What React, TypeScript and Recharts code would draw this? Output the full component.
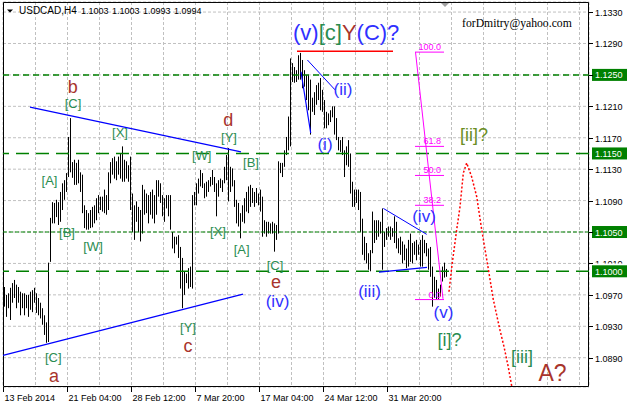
import React from 'react';
import {
  ComposedChart,
  Bar,
  Line,
  XAxis,
  YAxis,
  CartesianGrid,
  ReferenceLine,
  ReferenceDot,
  ReferenceArea,
} from 'recharts';

// ---------------- data ----------------
const highs = [
  1.0980, 1.0970, 1.0972, 1.0979, 1.0985, 1.0989, 1.0983, 1.0980, 1.0974, 1.0972,
  1.0972, 1.0970, 1.0970, 1.0974, 1.0976, 1.0979, 1.0972, 1.0966, 1.0960, 1.0953,
  1.0944, 1.0935, 1.1011, 1.1068, 1.1088, 1.1087, 1.1091, 1.1088, 1.1101, 1.1112,
  1.1116, 1.1125, 1.1171, 1.1195, 1.1139, 1.1142, 1.1138, 1.1142, 1.1126, 1.1123,
  1.1084, 1.1078, 1.1074, 1.1078, 1.1082, 1.1084, 1.1093, 1.1097, 1.1095, 1.1095,
  1.1104, 1.1097, 1.1126, 1.1139, 1.1144,
  1.1146, 1.1140, 1.1146, 1.1150, 1.1159, 1.1142, 1.1140, 1.1135, 1.1146, 1.1099,
  1.1084, 1.1089, 1.1082, 1.1078, 1.1110, 1.1104, 1.1099, 1.1097, 1.1101, 1.1104,
  1.1097, 1.1116, 1.1116, 1.1112, 1.1097, 1.1093, 1.1097, 1.1097, 1.1097, 1.1050,
  1.1044, 1.1044, 1.1046, 1.1031, 1.1017, 1.1000, 1.0997, 1.1004, 1.1006, 1.1097,
  1.1101, 1.1112, 1.1118, 1.1129, 1.1125, 1.1112, 1.1114, 1.1116, 1.1120, 1.1129,
  1.1120, 1.1112, 1.1116, 1.1118, 1.1116,
  1.1133, 1.1148, 1.1157, 1.1133, 1.1131, 1.1116, 1.1091, 1.1087, 1.1074, 1.1084,
  1.1093, 1.1101, 1.1108, 1.1110, 1.1106, 1.1101, 1.1106, 1.1099, 1.1104, 1.1095,
  1.1065, 1.1063, 1.1063, 1.1061, 1.1063, 1.1061, 1.1059, 1.1140, 1.1138, 1.1138,
  1.1154, 1.1171, 1.1197, 1.1271, 1.1265, 1.1260, 1.1256, 1.1275, 1.1278, 1.1269,
  1.1256, 1.1250, 1.1250, 1.1244, 1.1221, 1.1228, 1.1237, 1.1240, 1.1246, 1.1231,
  1.1218, 1.1203, 1.1201, 1.1205, 1.1210,
  1.1210, 1.1195, 1.1171, 1.1167, 1.1171, 1.1154, 1.1159, 1.1167, 1.1150, 1.1114,
  1.1104, 1.1104, 1.1104, 1.1101, 1.1067, 1.1044, 1.1036, 1.1023, 1.1027, 1.1076,
  1.1065, 1.1065, 1.1065, 1.1063, 1.1080, 1.1050, 1.1055, 1.1057, 1.1057, 1.1055,
  1.1070, 1.1063, 1.1042, 1.1044, 1.1038, 1.1034, 1.1029, 1.1040, 1.1048, 1.1036,
  1.1038, 1.1040, 1.1034, 1.1040, 1.1046, 1.1040, 1.1036, 1.1029, 1.1031, 1.1006,
  1.0993, 1.0989, 1.0978, 1.0983, 1.1006, 1.1011, 1.1003,
];

const lows = [
  1.0955, 1.0942, 1.0953, 1.0938, 1.0960, 1.0966, 1.0953, 1.0960, 1.0944, 1.0953,
  1.0944, 1.0953, 1.0942, 1.0951, 1.0948, 1.0960, 1.0947, 1.0944, 1.0940, 1.0932,
  1.0919, 1.0909, 1.0910, 1.1012, 1.1061, 1.1061, 1.1069, 1.1059, 1.1063, 1.1078,
  1.1091, 1.1101, 1.1120, 1.1126, 1.1119, 1.1110, 1.1110, 1.1112, 1.1101, 1.1074,
  1.1055, 1.1053, 1.1053, 1.1055, 1.1056, 1.1061, 1.1065, 1.1074, 1.1078, 1.1076,
  1.1074, 1.1072, 1.1078, 1.1112, 1.1123,
  1.1118, 1.1116, 1.1123, 1.1118, 1.1114, 1.1114, 1.1118, 1.1114, 1.1078, 1.1050,
  1.1040, 1.1063, 1.1050, 1.1038, 1.1048, 1.1072, 1.1074, 1.1061, 1.1072, 1.1067,
  1.1061, 1.1072, 1.1095, 1.1087, 1.1070, 1.1063, 1.1080, 1.1070, 1.1053, 1.1029,
  1.1023, 1.1034, 1.1017, 1.0978, 1.0953, 1.0970, 1.0985, 1.0978, 1.0980, 1.0978,
  1.1084, 1.1084, 1.1099, 1.1108, 1.1106, 1.1093, 1.1095, 1.1101, 1.1108, 1.1110,
  1.1101, 1.1070, 1.1095, 1.1106, 1.1101,
  1.1112, 1.1116, 1.1089, 1.1101, 1.1108, 1.1082, 1.1061, 1.1057, 1.1042, 1.1063,
  1.1061, 1.1076, 1.1074, 1.1082, 1.1087, 1.1082, 1.1087, 1.1084, 1.1076, 1.1044,
  1.1048, 1.1044, 1.1048, 1.1048, 1.1048, 1.1025, 1.1040, 1.1048, 1.1125, 1.1120,
  1.1133, 1.1148, 1.1154, 1.1159, 1.1241, 1.1240, 1.1241, 1.1244, 1.1244, 1.1233,
  1.1235, 1.1218, 1.1205, 1.1174, 1.1203, 1.1199, 1.1212, 1.1218, 1.1205, 1.1203,
  1.1182, 1.1182, 1.1186, 1.1190, 1.1196,
  1.1174, 1.1167, 1.1154, 1.1152, 1.1148, 1.1120, 1.1135, 1.1133, 1.1099, 1.1082,
  1.1082, 1.1087, 1.1078, 1.1050, 1.1021, 1.1014, 1.1010, 1.1002, 1.1000, 1.1023,
  1.1036, 1.1040, 1.1044, 1.1048, 1.1002, 1.1031, 1.1040, 1.1044, 1.1040, 1.1044,
  1.1036, 1.1029, 1.1023, 1.1021, 1.1010, 1.1014, 1.1004, 1.1006, 1.1012, 1.1010,
  1.1021, 1.1014, 1.1021, 1.1006, 1.1006, 1.1023, 1.1019, 1.1002, 1.0993, 1.0955,
  1.0966, 1.0964, 1.0964, 1.0968, 1.0987, 1.0992, 1.0993,
];

const timeTicks = [
  -0.75, 15.25, 31.25, 47.25, 63.25, 79.25, 95.25, 111.25, 127.25, 143.25,
  159.25, 175.25, 191.25, 207.25, 223.25, 239.25, 255.25, 271.25, 287.25,
];
const timeLabels = [
  '13 Feb 2014', '', '21 Feb 04:00', '', '28 Feb 12:00', '', '7 Mar 20:00', '',
  '17 Mar 04:00', '', '24 Mar 12:00', '', '31 Mar 20:00', '', '', '', '', '', '',
];

const priceTicks = [
  1.133, 1.129, 1.125, 1.121, 1.117, 1.113, 1.109, 1.105, 1.101, 1.097, 1.093, 1.089,
];

const levelPrices = [1.125, 1.115, 1.105, 1.1];
const levelLabels = ['1.1250', '1.1150', '1.1050', '1.1000'];
const levelDash = ['6 4', '13 7', '4 2', '13 7'];

const fibPrices = [1.1279, 1.1159, 1.1122, 1.1084, 1.0964];
const fibLabels = ['100.0', '61.8', '50.0', '38.2', '0.0'];

const projI = [222, 223.5, 225.85, 227.5, 229.15, 230.85, 233.35, 235.85, 238.35, 241.65, 244.15, 247.5, 249.5, 251.65, 253.35];
const projP = [1.0974, 1.1008, 1.1053, 1.1082, 1.1125, 1.1138, 1.112, 1.1095, 1.1053, 1.1003, 1.0964, 1.0925, 1.0904, 1.0878, 1.0854];

const segments = [
  { i1: 12.5, p1: 1.1209, i2: 118, p2: 1.1152, kind: 'blue' },
  { i1: -1, p1: 1.0893, i2: 119, p2: 1.0971, kind: 'blue' },
  { i1: 148, p1: 1.1254, i2: 152.85, p2: 1.1176, kind: 'blue' },
  { i1: 151.2, p1: 1.1269, i2: 165, p2: 1.1231, kind: 'blueThin' },
  { i1: 189.2, p1: 1.108, i2: 210.85, p2: 1.1047, kind: 'blueThin' },
  { i1: 187, p1: 1.0999, i2: 211, p2: 1.1005, kind: 'blue' },
  { i1: 146, p1: 1.128, i2: 194, p2: 1.128, kind: 'red' },
  { i1: 205.25, p1: 1.1279, i2: 219, p2: 1.0965, kind: 'magenta' },
];

const waveLabels = [
  { i: 33.85, p: 1.1234, text: 'b', kind: 'brown' },
  { i: 34, p: 1.1213, text: '[C]', kind: 'green' },
  { i: 22.25, p: 1.1116, text: '[A]', kind: 'green' },
  { i: 31, p: 1.1049, text: '[B]', kind: 'green' },
  { i: 44, p: 1.1032, text: '[W]', kind: 'green' },
  { i: 57.5, p: 1.1177, text: '[X]', kind: 'green' },
  { i: 98.35, p: 1.1147, text: '[W]', kind: 'green' },
  { i: 106.5, p: 1.1051, text: '[X]', kind: 'green' },
  { i: 91.5, p: 1.0929, text: '[Y]', kind: 'green' },
  { i: 91.5, p: 1.0905, text: 'c', kind: 'brown' },
  { i: 111.65, p: 1.1193, text: 'd', kind: 'brown' },
  { i: 112, p: 1.117, text: '[Y]', kind: 'green' },
  { i: 123, p: 1.1139, text: '[B]', kind: 'green' },
  { i: 118.35, p: 1.1028, text: '[A]', kind: 'green' },
  { i: 135, p: 1.1008, text: '[C]', kind: 'green' },
  { i: 135.5, p: 1.0986, text: 'e', kind: 'brown' },
  { i: 136.25, p: 1.0962, text: '(iv)', kind: 'blue' },
  { i: 24.15, p: 1.089, text: '[C]', kind: 'green' },
  { i: 24.5, p: 1.0867, text: 'a', kind: 'brown' },
  { i: 160, p: 1.1162, text: '(i)', kind: 'blue' },
  { i: 169, p: 1.1232, text: '(ii)', kind: 'blue' },
  { i: 182.25, p: 1.0974, text: '(iii)', kind: 'blue' },
  { i: 209.5, p: 1.107, text: '(iv)', kind: 'blue' },
  { i: 219.25, p: 1.0947, text: '(v)', kind: 'blue' },
  { i: 222.25, p: 1.0913, text: '[i]?', kind: 'greenBig' },
  { i: 258.5, p: 1.0891, text: '[iii]', kind: 'greenBig' },
  { i: 273.75, p: 1.0871, text: 'A?', kind: 'brownBig' },
  { i: 234.5, p: 1.1174, text: '[ii]?', kind: 'olive' },
];

const topLabelPos = { i: 144, p: 1.1305 };
const topLabelParts = [
  { text: '(v)', kind: 'blue' },
  { text: '[c]', kind: 'green' },
  { text: 'Y', kind: 'brown' },
  { text: '(C)?', kind: 'blue' },
];

const titleSymbol = 'USDCAD,H4';
const titleValues = ['1.1003', '1.1003', '1.0993', '1.0994'];
const watermark = 'forDmitry@yahoo.com';

// ---------------- layout / style ----------------
const X_MIN = -1;
const X_MAX = 292;
const Y_MIN = 1.08527;
const Y_MAX = 1.13428;
const FONT = '"Liberation Sans", Arial, sans-serif';

const COLORS: Record<string, string> = {
  brown: '#a8342c',
  brownBig: '#a8342c',
  green: '#2a8c50',
  greenBig: '#2a8c50',
  olive: '#6b8e23',
  blue: '#3030ff',
};
const SIZES: Record<string, number> = {
  brown: 18,
  brownBig: 23,
  green: 13,
  greenBig: 18,
  olive: 18,
  blue: 17,
};
const SEG_STYLE: Record<string, { stroke: string; width: number }> = {
  blue: { stroke: '#0000ff', width: 1.2 },
  blueThin: { stroke: '#0000ff', width: 1 },
  red: { stroke: '#ff0000', width: 1.5 },
  magenta: { stroke: '#ff00ff', width: 1 },
};

const barData = highs.map((h, i) => ({ i, hl: [lows[i], h] }));
const projData = projI.map((i, k) => ({ i, p: projP[k] }));

function OhlcShape(props: any) {
  const { x, y, width, height } = props;
  if (x == null || y == null) return <g />;
  const cx = Math.round(x + width / 2 - 0.5);
  const top = Math.min(y, y + height);
  const h = Math.max(1, Math.abs(height));
  return <rect x={cx} y={top} width={1} height={h} fill="#000" />;
}

function XTick(props: any) {
  const { x, y, payload } = props;
  const idx = timeTicks.indexOf(payload.value);
  const label = idx >= 0 ? timeLabels[idx] : '';
  if (!label) return <g />;
  return (
    <g>
      <line x1={x} y1={y} x2={x} y2={y + 5} stroke="#000" strokeWidth={1} />
      <text x={x + 1} y={y + 14} fontSize={9} fontFamily={FONT} fill="#000">
        {label}
      </text>
    </g>
  );
}

function YTick(props: any) {
  const { x, y, payload } = props;
  const v = Number(payload.value);
  const yy = Math.round(y) + 0.5;
  // labels hidden under the level boxes
  const covered = levelPrices.some((lp) => Math.abs(lp - v) < 1e-6);
  const halfCovered = Math.abs(v - 1.101) < 1e-6;
  const clipId = 'yclip' + Math.round(v * 10000);
  return (
    <g>
      <line x1={x} y1={yy} x2={x + 4} y2={yy} stroke="#000" strokeWidth={1} />
      {halfCovered && (
        <defs>
          <clipPath id={clipId}>
            <rect x={x} y={yy - 10} width={40} height={10} />
          </clipPath>
        </defs>
      )}
      {!covered && (
        <text
          x={x + 6}
          y={yy + 3.5}
          fontSize={9}
          fontFamily={FONT}
          fill="#000"
          clipPath={halfCovered ? `url(#${clipId})` : undefined}
        >
          {v.toFixed(4)}
        </text>
      )}
    </g>
  );
}

export default function App() {
  return (
    <div style={{ position: 'absolute', left: 0, top: 0, width: 627, height: 405, background: '#fff' }}>
      <ComposedChart
        width={627}
        height={405}
        data={barData}
        margin={{ top: 2, right: 0, bottom: 0, left: 3 }}
      >
        <CartesianGrid stroke="#c0c0c0" strokeDasharray="3 2" />
        <XAxis
          dataKey="i"
          type="number"
          domain={[X_MIN, X_MAX]}
          allowDataOverflow
          ticks={timeTicks}
          interval={0}
          height={18}
          axisLine={false}
          tickLine={false}
          tickSize={0}
          tickMargin={0}
          tick={(p: any) => <XTick {...p} />}
        />
        <YAxis
          type="number"
          orientation="right"
          domain={[Y_MIN, Y_MAX]}
          allowDataOverflow
          ticks={priceTicks}
          interval={0}
          width={38}
          axisLine={false}
          tickLine={false}
          tickSize={0}
          tickMargin={0}
          tick={(p: any) => <YTick {...p} />}
        />
        {levelPrices.map((lp, k) => (
          <ReferenceLine
            key={'lvl' + k}
            y={lp}
            stroke="#008000"
            strokeWidth={k === 2 ? 1 : 1.5}
            strokeDasharray={levelDash[k]}
            ifOverflow="visible"
          />
        ))}
        <Bar dataKey="hl" barSize={1} isAnimationActive={false} shape={(p: any) => <OhlcShape {...p} />} />
        {segments.map((s, k) => (
          <ReferenceLine
            key={'seg' + k}
            segment={[{ x: s.i1, y: s.p1 }, { x: s.i2, y: s.p2 }]}
            stroke={SEG_STYLE[s.kind].stroke}
            strokeWidth={SEG_STYLE[s.kind].width}
            ifOverflow="visible"
          />
        ))}
        {fibPrices.map((fp, k) => (
          <ReferenceLine
            key={'fib' + k}
            segment={[{ x: 205, y: fp }, { x: 219.5, y: fp }]}
            stroke="#ff00ff"
            strokeWidth={1}
            ifOverflow="visible"
          />
        ))}
        {fibPrices.map((fp, k) => (
          <ReferenceDot
            key={'fibl' + k}
            x={218}
            y={fp}
            r={0}
            ifOverflow="visible"
            shape={(pp: any) => (
              <text x={pp.cx} y={pp.cy - 2} textAnchor="end" fontSize={9} fontFamily={FONT} fill="#ff00ff">
                {fibLabels[k]}
              </text>
            )}
          />
        ))}
        <Line
          data={projData}
          dataKey="p"
          type="linear"
          stroke="#ff0000"
          strokeWidth={1.5}
          strokeDasharray="2 2"
          dot={false}
          isAnimationActive={false}
        />
        {waveLabels.map((l, k) => (
          <ReferenceDot
            key={'wl' + k}
            x={l.i}
            y={l.p}
            r={0}
            ifOverflow="visible"
            shape={(pp: any) => (
              <text
                x={pp.cx}
                y={pp.cy}
                textAnchor="middle"
                dominantBaseline="central"
                fontSize={SIZES[l.kind]}
                fontFamily={FONT}
                fill={COLORS[l.kind]}
              >
                {l.text}
              </text>
            )}
          />
        ))}
        <ReferenceDot
          x={topLabelPos.i}
          y={topLabelPos.p}
          r={0}
          ifOverflow="visible"
          shape={(pp: any) => (
            <text x={pp.cx} y={pp.cy} dominantBaseline="central" fontSize={22} fontFamily={FONT}>
              {topLabelParts.map((t, k) => (
                <tspan key={k} fill={COLORS[t.kind]}>
                  {t.text}
                </tspan>
              ))}
            </text>
          )}
        />
        <ReferenceArea
          x1={-0.75}
          x2={291.75}
          y1={1.08533}
          y2={1.13422}
          fill="none"
          fillOpacity={0}
          stroke="#000"
          strokeWidth={1}
          ifOverflow="visible"
        />
        {levelPrices.map((lp, k) => (
          <ReferenceDot
            key={'box' + k}
            x={X_MAX}
            y={lp}
            r={0}
            ifOverflow="visible"
            shape={(pp: any) => (
              <g>
                <rect x={pp.cx + 3} y={pp.cy - 6} width={35} height={12} fill="#008000" />
                <text x={pp.cx + 6} y={pp.cy + 3.5} fontSize={9} fontFamily={FONT} fill="#fff">
                  {levelLabels[k]}
                </text>
              </g>
            )}
          />
        ))}
      </ComposedChart>
      <svg
        width={627}
        height={405}
        style={{ position: 'absolute', left: 0, top: 0, pointerEvents: 'none' }}
      >
        <polygon points="7,9.5 13,9.5 10,12.5" fill="#000" />
        <text x={19} y={14} fontSize={10} fontFamily={FONT} fill="#000">
          {titleSymbol}
        </text>
        {titleValues.map((v, k) => (
          <text key={k} x={81 + 31 * k} y={14} fontSize={9} fontFamily={FONT} fill="#000">
            {v}
          </text>
        ))}
        <text x={462} y={27} fontSize={11.7} fontFamily='"Liberation Serif", "Times New Roman", serif' fill="#000">
          {watermark}
        </text>
        <polygon points="441,3 449,3 445,7" fill="#a0a0a0" />
      </svg>
    </div>
  );
}
